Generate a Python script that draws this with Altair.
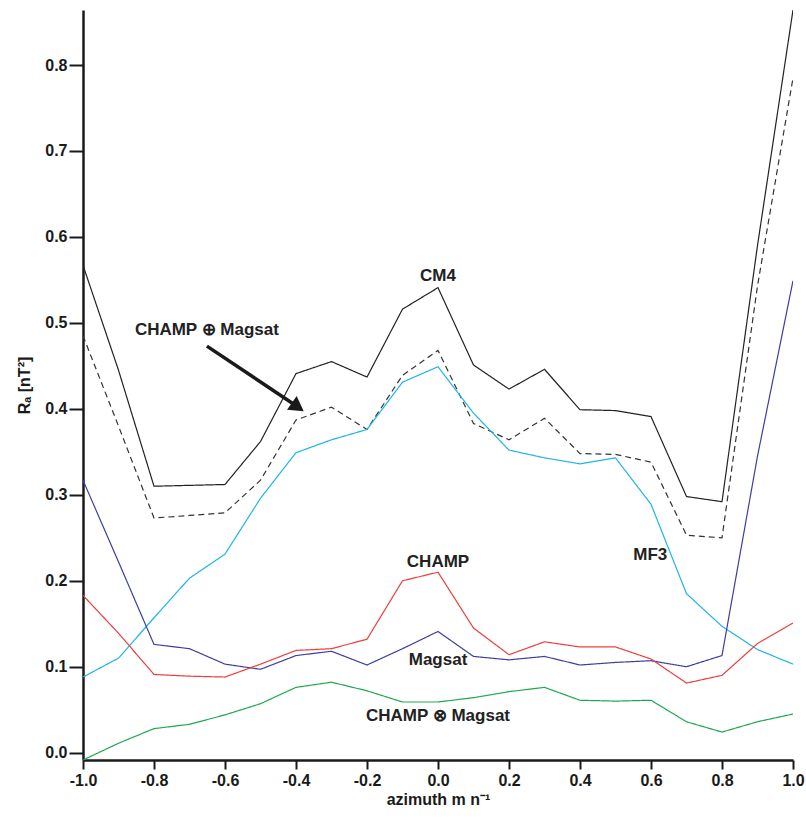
import altair as alt
import pandas as pd

azimuth = [-1.0, -0.9, -0.8, -0.7, -0.6, -0.5, -0.4, -0.3, -0.2, -0.1, 0.0,
           0.1, 0.2, 0.3, 0.4, 0.5, 0.6, 0.7, 0.8, 0.9, 1.0]

cm4 = [0.567, 0.445, 0.310, 0.311, 0.312, 0.362, 0.441, 0.455, 0.437, 0.516, 0.541,
       0.451, 0.423, 0.446, 0.399, 0.398, 0.391, 0.298, 0.292, 0.590, 0.864]
champ_plus_magsat = [0.485, 0.380, 0.273, 0.276, 0.279, 0.317, 0.387, 0.402, 0.376, 0.439, 0.468,
                     0.383, 0.364, 0.389, 0.348, 0.347, 0.338, 0.253, 0.250, 0.543, 0.785]
mf3 = [0.088, 0.110, 0.157, 0.203, 0.231, 0.296, 0.349, 0.364, 0.376, 0.431, 0.449,
       0.395, 0.352, 0.343, 0.336, 0.343, 0.289, 0.185, 0.147, 0.120, 0.103]
magsat = [0.317, 0.222, 0.126, 0.121, 0.103, 0.097, 0.113, 0.118, 0.102, 0.121, 0.141,
          0.112, 0.108, 0.112, 0.102, 0.105, 0.107, 0.100, 0.113, 0.345, 0.549]
champ = [0.183, 0.139, 0.091, 0.089, 0.088, 0.103, 0.119, 0.121, 0.132, 0.200, 0.210,
         0.145, 0.114, 0.129, 0.123, 0.123, 0.109, 0.081, 0.090, 0.127, 0.151]
champ_times_magsat = [-0.0085, 0.011, 0.028, 0.033, 0.044, 0.057, 0.076, 0.082, 0.072, 0.059, 0.059,
                      0.064, 0.071, 0.076, 0.061, 0.060, 0.061, 0.036, 0.024, 0.036, 0.045]

series_names = ["CM4", "CHAMP ⊕ Magsat", "MF3", "Magsat", "CHAMP", "CHAMP ⊗ Magsat"]
series_values = [cm4, champ_plus_magsat, mf3, magsat, champ, champ_times_magsat]
series_colors = ["#222222", "#333333", "#1fb4ea", "#3b3f9f", "#ef3d3d", "#1fa84f"]
series_dash = [[1, 0], [6, 4], [1, 0], [1, 0], [1, 0], [1, 0]]

ann_text = ["CM4", "CHAMP ⊕ Magsat", "CHAMP", "Magsat", "CHAMP ⊗ Magsat", "MF3"]
ann_x = [0.0, -0.651, 0.0, 0.0, 0.0, 0.598]
ann_y = [0.555, 0.4915, 0.2217, 0.108, 0.0427, 0.23]

arrow_start = (-0.651, 0.473)
arrow_end = (-0.405, 0.405)
arrow_tip = (-0.395, 0.402)

x_ticks = azimuth
y_ticks = [0.0, 0.1, 0.2, 0.3, 0.4, 0.5, 0.6, 0.7, 0.8]

rows = []
for name, vals in zip(series_names, series_values):
    for xv, yv in zip(azimuth, vals):
        rows.append({"series": name, "azimuth": xv, "Ra": yv})
df = pd.DataFrame(rows)

FONT = "Liberation Sans"

xscale = alt.Scale(domain=[-1.0, 1.0], nice=False, zero=False)
yscale = alt.Scale(domain=[-0.0085, 0.864], nice=False, zero=False)

major_test = "abs(round(datum.value*10)) % 2 === 0"

x_axis = alt.Axis(
    title="azimuth m n⁻¹",
    values=x_ticks,
    labelExpr="abs(round(datum.value*10)) % 2 === 0 ? replace(format(datum.value, '.1f'), '−', '-') : ''",
    tickSize={"condition": {"test": major_test, "value": 9}, "value": 5},
    tickWidth=2, tickColor="#1a1a1a",
    domainColor="#1a1a1a", domainWidth=2.5,
    labelFont=FONT, labelFontWeight="bold", labelFontSize=16, labelColor="#1a1a1a",
    labelPadding=3, labelFlush=False, labelOverlap=False,
    titleFont=FONT, titleFontWeight="bold", titleFontSize=16, titleColor="#1a1a1a",
    titlePadding=3, grid=False,
)
y_axis = alt.Axis(
    title="Rₐ [nT²]",
    values=y_ticks,
    labelExpr="replace(format(datum.value, '.1f'), '−', '-')",
    tickSize=14, tickWidth=2, tickColor="#1a1a1a",
    domainColor="#1a1a1a", domainWidth=2.5,
    labelFont=FONT, labelFontWeight="bold", labelFontSize=16, labelColor="#1a1a1a",
    labelPadding=2, labelFlush=False,
    titleFont=FONT, titleFontWeight="bold", titleFontSize=16, titleColor="#1a1a1a",
    titlePadding=12, grid=False,
)

lines = alt.Chart(df).mark_line(strokeWidth=1.2, clip=True).encode(
    x=alt.X("azimuth:Q", scale=xscale, axis=x_axis),
    y=alt.Y("Ra:Q", scale=yscale, axis=y_axis),
    color=alt.Color("series:N", scale=alt.Scale(domain=series_names, range=series_colors), legend=None),
    strokeDash=alt.StrokeDash("series:N", scale=alt.Scale(domain=series_names, range=series_dash), legend=None),
    detail="series:N",
)

ann_df = pd.DataFrame({"text": ann_text, "x": ann_x, "y": ann_y})
labels = alt.Chart(ann_df).mark_text(
    font=FONT, fontWeight="bold", fontSize=17, color="#222222", align="center", baseline="middle"
).encode(x=alt.X("x:Q", scale=xscale), y=alt.Y("y:Q", scale=yscale), text="text:N")

arrow_df = pd.DataFrame({"x": [arrow_start[0]], "y": [arrow_start[1]],
                         "x2": [arrow_end[0]], "y2": [arrow_end[1]]})
arrow_line = alt.Chart(arrow_df).mark_rule(strokeWidth=3.5, color="#1a1a1a").encode(
    x=alt.X("x:Q", scale=xscale), y=alt.Y("y:Q", scale=yscale), x2="x2:Q", y2="y2:Q"
)
head_df = pd.DataFrame({"x": [arrow_tip[0]], "y": [arrow_tip[1]]})
arrow_head = alt.Chart(head_df).mark_point(
    shape="triangle-right", filled=True, size=280, angle=35, color="#1a1a1a", opacity=1
).encode(x=alt.X("x:Q", scale=xscale), y=alt.Y("y:Q", scale=yscale))

chart = alt.layer(lines, labels, arrow_line, arrow_head).properties(
    width=710, height=750,
    autosize=alt.AutoSizeParams(type="none"),
    padding={"left": 83, "top": 10, "right": 13, "bottom": 61},
    background="white",
).configure_view(stroke=None)

chart.save("out.html", embed_options={"renderer": "svg", "actions": False})
